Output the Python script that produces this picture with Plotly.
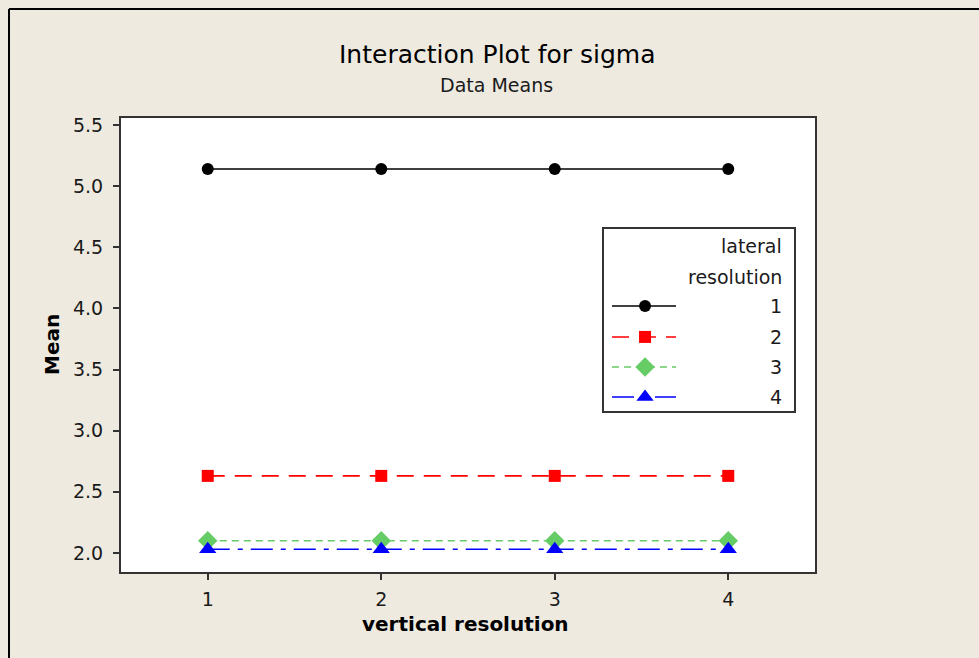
import plotly.graph_objects as go

# Interaction plot data: mean sigma per vertical resolution, one series per lateral resolution
vertical_levels = [1, 2, 3, 4]
lateral_levels = ["1", "2", "3", "4"]
mean_lat1 = [5.14, 5.14, 5.14, 5.14]
mean_lat2 = [2.63, 2.63, 2.63, 2.63]
mean_lat3 = [2.10, 2.10, 2.10, 2.10]
mean_lat4 = [2.03, 2.03, 2.03, 2.03]
y_ticks = [2.0, 2.5, 3.0, 3.5, 4.0, 4.5, 5.0, 5.5]

series = [mean_lat1, mean_lat2, mean_lat3, mean_lat4]
styles = [
    dict(color="#000000", dash="solid", symbol="circle", size=12),
    dict(color="#FF0000", dash="17px,10px", symbol="square", size=12),
    dict(color="#66CC66", dash="7px,5px", symbol="diamond", size=15),
    dict(color="#0000FF", dash="22px,8px,5px,8px", symbol="triangle-up", size=15),
]

W, H = 979, 658
L, R, T, B = 121, 815, 118, 572
BG = "#EEEAE0"
FONT = "DejaVu Sans"
TXT = "#1a1a1a"


def px(x):
    return (x - L) / (R - L)


def py(y):
    return (B - y) / (B - T)


def label(x, y, text, size, **kw):
    fig.add_annotation(x=x, y=y, text=text, showarrow=False,
                       xanchor=kw.pop("xanchor", "center"), yanchor="middle",
                       font=dict(family=FONT, size=size, color=kw.pop("color", "#000000")),
                       **kw)


fig = go.Figure()

for vals, st in zip(series, styles):
    fig.add_trace(go.Scatter(
        x=vertical_levels, y=vals, mode="lines+markers",
        line=dict(color=st["color"], dash=st["dash"], width=1.6),
        marker=dict(symbol=st["symbol"], size=st["size"], color=st["color"]),
        showlegend=False, hoverinfo="skip",
    ))

# Legend panel drawn on its own small axes
lx0, lx1, ly0, ly1 = 604, 794, 229, 411
row_y = [0.577, 0.407, 0.242, 0.077]
for lab, st, ry in zip(lateral_levels, styles, row_y):
    fig.add_trace(go.Scatter(
        x=[0.042, 0.379], y=[ry, ry], mode="lines",
        line=dict(color=st["color"], dash=st["dash"], width=1.6),
        xaxis="x2", yaxis="y2", showlegend=False, hoverinfo="skip",
    ))
    fig.add_trace(go.Scatter(
        x=[0.216], y=[ry], mode="markers",
        marker=dict(symbol=st["symbol"], size=st["size"], color=st["color"]),
        xaxis="x2", yaxis="y2", showlegend=False, hoverinfo="skip",
    ))
    label(0.947, ry, lab, 19, xref="x2", yref="y2", xanchor="right", color=TXT)

label(0.947, 0.907, "lateral", 19, xref="x2", yref="y2", xanchor="right", color=TXT)
label(0.947, 0.736, "resolution", 19, xref="x2", yref="y2", xanchor="right", color=TXT)

# Titles
label(px(497), py(55), "Interaction Plot for sigma", 25, xref="paper", yref="paper")
label(px(497), py(85), "Data Means", 19, xref="paper", yref="paper", color=TXT)
label(px(52), py(345), "<b>Mean</b>", 20, xref="paper", yref="paper", textangle=-90)
label(px(465), py(624), "<b>vertical resolution</b>", 20, xref="paper", yref="paper")

# Outer frame (left and top edges)
fig.add_shape(type="line", xref="paper", yref="paper",
              x0=px(9), x1=px(9), y0=py(H + 5), y1=py(9),
              line=dict(color="#000000", width=2))
fig.add_shape(type="line", xref="paper", yref="paper",
              x0=px(9), x1=px(W + 5), y0=py(9), y1=py(9),
              line=dict(color="#000000", width=2))

axis_common = dict(showgrid=False, zeroline=False, showline=True, mirror=True,
                   linecolor="#333333", linewidth=2, ticks="outside",
                   ticklen=6, tickwidth=2, tickcolor="#333333",
                   tickfont=dict(family=FONT, size=19, color=TXT))

fig.update_layout(
    width=W, height=H,
    margin=dict(l=L, r=W - R, t=T, b=H - B),
    paper_bgcolor=BG, plot_bgcolor="#FFFFFF",
    xaxis=dict(range=[0.5, 4.5], tickvals=vertical_levels,
               ticktext=[str(v) for v in vertical_levels],
               ticklabelstandoff=3, **axis_common),
    yaxis=dict(range=[1.844, 5.557], tickvals=y_ticks,
               ticktext=[f"{v:.1f}" for v in y_ticks],
               ticklabelstandoff=6, **axis_common),
    xaxis2=dict(domain=[px(lx0), px(lx1)], range=[0, 1], anchor="y2",
                showgrid=False, zeroline=False, showticklabels=False,
                showline=True, mirror=True, linecolor="#333333", linewidth=1.5),
    yaxis2=dict(domain=[py(ly1), py(ly0)], range=[0, 1], anchor="x2",
                showgrid=False, zeroline=False, showticklabels=False,
                showline=True, mirror=True, linecolor="#333333", linewidth=1.5),
    showlegend=False,
)

fig.write_html("out.html")
